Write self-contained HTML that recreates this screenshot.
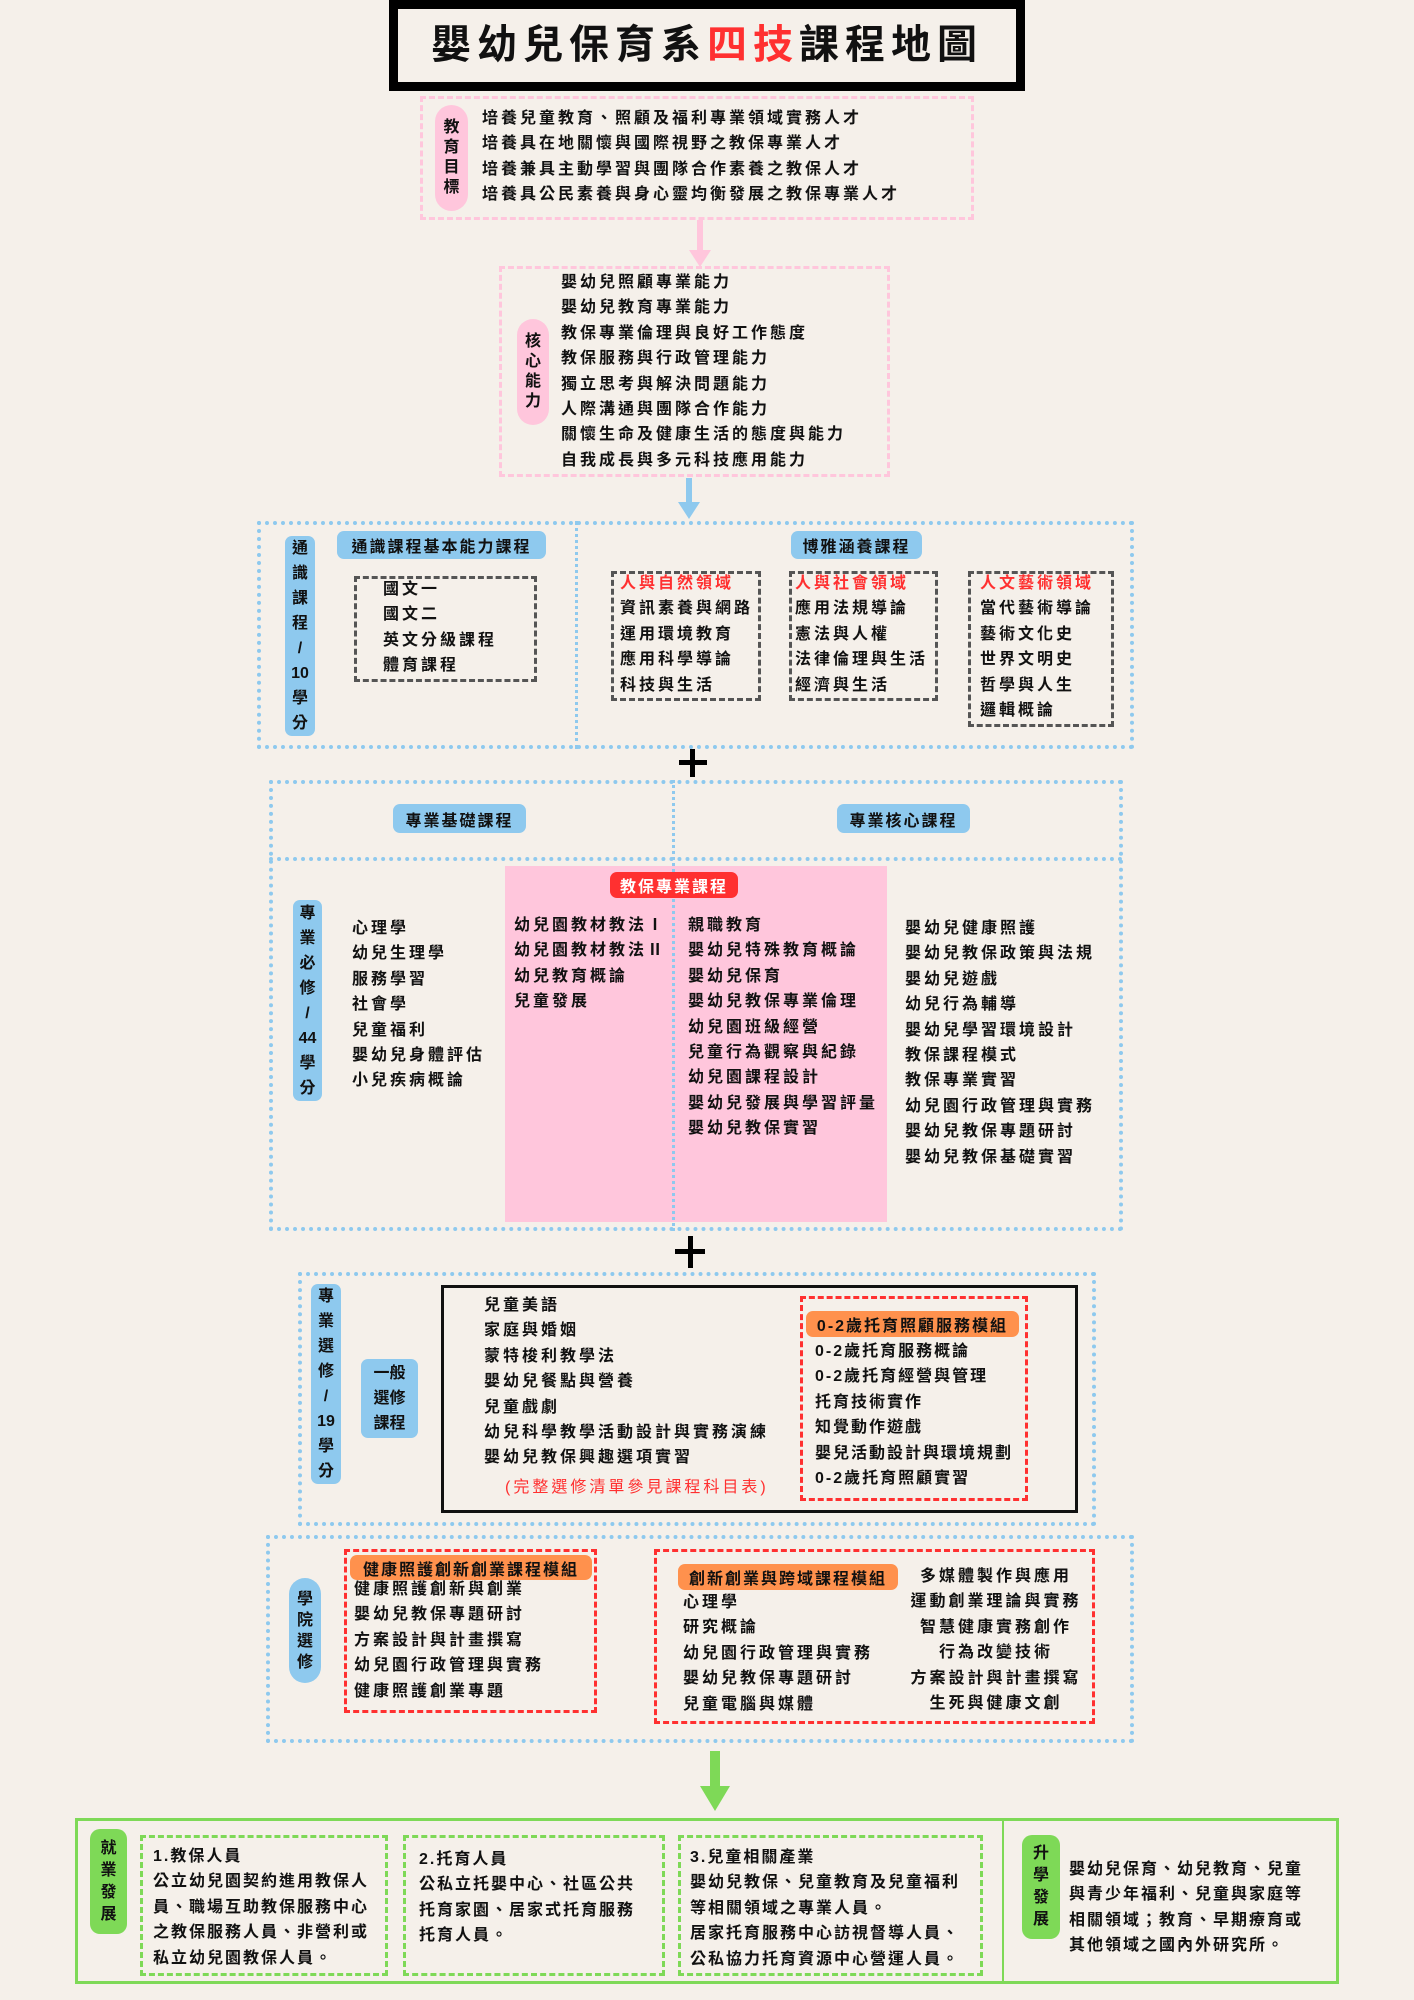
<!DOCTYPE html>
<html><head><meta charset="utf-8"><style>
*{margin:0;padding:0;box-sizing:border-box}
body{width:1414px;height:2000px;background:#f5f0ea;position:relative;overflow:hidden;font-family:"Liberation Sans","Noto Sans CJK TC",sans-serif;color:#111}
.a{position:absolute}
.t{position:absolute;font-size:16px;line-height:25.4px;letter-spacing:3px;white-space:nowrap;font-weight:700}
.pill{position:absolute;background:#8ec9ee;border-radius:7px;text-align:center;font-size:16px;font-weight:700;letter-spacing:2px;display:flex;align-items:center;justify-content:center;white-space:nowrap}
.vp{position:absolute;background:#8ec9ee;border-radius:7px;text-align:center;font-size:16px;font-weight:700;display:flex;flex-direction:column;align-items:center;justify-content:center;line-height:25px}
.pink{background:#ffc6dc;border-radius:18px}
.gr{background:#7ed957;border-radius:10px}
.bd{position:absolute;border:4px dotted #8ec9ee}
.dk{position:absolute;border:3px dashed #555}
.rd{position:absolute;border:3px dashed #ff3030}
.gd{position:absolute;border:3px dashed #7ed957}
.or{position:absolute;background:#ff914d;border-radius:7px;font-size:16px;font-weight:700;letter-spacing:2px;display:flex;align-items:center;justify-content:center;white-space:nowrap}
.r{color:#ff3030}
</style></head><body>

<!-- title -->
<div class="a" style="left:389px;top:0;width:636px;height:91px;background:#000"></div>
<div class="a" style="left:398px;top:9px;width:618px;height:73px;background:#f5f0ea;text-align:center;font-size:40px;line-height:73px;font-weight:700;letter-spacing:6px">嬰幼兒保育系<span class="r">四技</span>課程地圖</div>

<!-- goals -->
<div class="a" style="left:420px;top:96px;width:554px;height:124px;border:3px dashed #ffc6dc"></div>
<div class="vp pink" style="left:435px;top:105px;width:33px;height:106px;line-height:20px">教<br>育<br>目<br>標</div>
<div class="t" style="left:482px;top:106px">培養兒童教育、照顧及福利專業領域實務人才<br>培養具在地關懷與國際視野之教保專業人才<br>培養兼具主動學習與團隊合作素養之教保人才<br>培養具公民素養與身心靈均衡發展之教保專業人才</div>
<div class="a" style="left:697px;top:220px;width:6px;height:34px;background:#ffc6dc"></div>
<div class="a" style="left:689px;top:250px;width:0;height:0;border-left:11px solid transparent;border-right:11px solid transparent;border-top:17px solid #ffc6dc"></div>

<!-- core -->
<div class="a" style="left:499px;top:266px;width:391px;height:211px;border:3px dashed #ffc6dc"></div>
<div class="vp pink" style="left:517px;top:319px;width:32px;height:106px;line-height:20px">核<br>心<br>能<br>力</div>
<div class="t" style="left:561px;top:270px">嬰幼兒照顧專業能力<br>嬰幼兒教育專業能力<br>教保專業倫理與良好工作態度<br>教保服務與行政管理能力<br>獨立思考與解決問題能力<br>人際溝通與團隊合作能力<br>關懷生命及健康生活的態度與能力<br>自我成長與多元科技應用能力</div>
<div class="a" style="left:686px;top:478px;width:6px;height:28px;background:#8ec9ee"></div>
<div class="a" style="left:678px;top:502px;width:0;height:0;border-left:11px solid transparent;border-right:11px solid transparent;border-top:17px solid #8ec9ee"></div>

<!-- general -->
<div class="bd" style="left:257px;top:521px;width:877px;height:228px"></div>
<div class="a" style="left:575px;top:521px;border-left:3px dotted #8ec9ee;height:228px"></div>
<div class="vp" style="left:285px;top:536px;width:30px;height:200px">通<br>識<br>課<br>程<br>/<br>10<br>學<br>分</div>
<div class="pill" style="left:337px;top:531px;width:209px;height:28px">通識課程基本能力課程</div>
<div class="dk" style="left:354px;top:576px;width:183px;height:106px"></div>
<div class="t" style="left:383px;top:577px">國文一<br>國文二<br>英文分級課程<br>體育課程</div>
<div class="pill" style="left:791px;top:531px;width:131px;height:28px">博雅涵養課程</div>
<div class="dk" style="left:611px;top:571px;width:150px;height:130px"></div>
<div class="dk" style="left:789px;top:571px;width:149px;height:130px"></div>
<div class="dk" style="left:968px;top:571px;width:146px;height:156px"></div>
<div class="t" style="left:620px;top:571px"><span class="r">人與自然領域</span><br>資訊素養與網路<br>運用環境教育<br>應用科學導論<br>科技與生活</div>
<div class="t" style="left:795px;top:571px"><span class="r">人與社會領域</span><br>應用法規導論<br>憲法與人權<br>法律倫理與生活<br>經濟與生活</div>
<div class="t" style="left:980px;top:571px"><span class="r">人文藝術領域</span><br>當代藝術導論<br>藝術文化史<br>世界文明史<br>哲學與人生<br>邏輯概論</div>

<div class="a" style="left:679px;top:760px;width:28px;height:5px;background:#000"></div>
<div class="a" style="left:690px;top:749px;width:5px;height:28px;background:#000"></div>

<!-- professional required -->
<div class="a" style="left:505px;top:866px;width:382px;height:356px;background:#ffc6dc"></div>
<div class="bd" style="left:269px;top:780px;width:854px;height:451px"></div>
<div class="a" style="left:269px;top:857px;width:854px;border-top:4px dotted #8ec9ee"></div>
<div class="a" style="left:672px;top:780px;border-left:3px dotted #8ec9ee;height:451px"></div>
<div class="pill" style="left:393px;top:804px;width:133px;height:29px">專業基礎課程</div>
<div class="pill" style="left:837px;top:804px;width:133px;height:29px">專業核心課程</div>
<div class="pill" style="left:610px;top:872px;width:128px;height:26px;background:#ff3030;color:#fff">教保專業課程</div>
<div class="vp" style="left:293px;top:900px;width:29px;height:201px">專<br>業<br>必<br>修<br>/<br>44<br>學<br>分</div>
<div class="t" style="left:352px;top:916px">心理學<br>幼兒生理學<br>服務學習<br>社會學<br>兒童福利<br>嬰幼兒身體評估<br>小兒疾病概論</div>
<div class="t" style="left:514px;top:913px">幼兒園教材教法Ⅰ<br>幼兒園教材教法Ⅱ<br>幼兒教育概論<br>兒童發展</div>
<div class="t" style="left:688px;top:913px">親職教育<br>嬰幼兒特殊教育概論<br>嬰幼兒保育<br>嬰幼兒教保專業倫理<br>幼兒園班級經營<br>兒童行為觀察與紀錄<br>幼兒園課程設計<br>嬰幼兒發展與學習評量<br>嬰幼兒教保實習</div>
<div class="t" style="left:905px;top:916px">嬰幼兒健康照護<br>嬰幼兒教保政策與法規<br>嬰幼兒遊戲<br>幼兒行為輔導<br>嬰幼兒學習環境設計<br>教保課程模式<br>教保專業實習<br>幼兒園行政管理與實務<br>嬰幼兒教保專題研討<br>嬰幼兒教保基礎實習</div>

<div class="a" style="left:675px;top:1249px;width:30px;height:5px;background:#000"></div>
<div class="a" style="left:688px;top:1236px;width:5px;height:32px;background:#000"></div>

<!-- professional elective -->
<div class="bd" style="left:298px;top:1272px;width:798px;height:254px"></div>
<div class="vp" style="left:311px;top:1284px;width:30px;height:200px">專<br>業<br>選<br>修<br>/<br>19<br>學<br>分</div>
<div class="vp" style="left:361px;top:1359px;width:57px;height:79px">一般<br>選修<br>課程</div>
<div class="a" style="left:441px;top:1285px;width:637px;height:228px;border:3px solid #111"></div>
<div class="t" style="left:484px;top:1293px">兒童美語<br>家庭與婚姻<br>蒙特梭利教學法<br>嬰幼兒餐點與營養<br>兒童戲劇<br>幼兒科學教學活動設計與實務演練<br>嬰幼兒教保興趣選項實習</div>
<div class="t r" style="left:505px;top:1475px;font-weight:400">(完整選修清單參見課程科目表)</div>
<div class="rd" style="left:800px;top:1296px;width:228px;height:205px"></div>
<div class="or" style="left:806px;top:1311px;width:213px;height:26px">0-2歲托育照顧服務模組</div>
<div class="t" style="left:815px;top:1339px;letter-spacing:2px">0-2歲托育服務概論<br>0-2歲托育經營與管理<br>托育技術實作<br>知覺動作遊戲<br>嬰兒活動設計與環境規劃<br>0-2歲托育照顧實習</div>

<!-- college elective -->
<div class="bd" style="left:266px;top:1535px;width:868px;height:208px"></div>
<div class="vp" style="left:289px;top:1578px;width:32px;height:105px;border-radius:16px;line-height:21px">學<br>院<br>選<br>修</div>
<div class="rd" style="left:344px;top:1549px;width:253px;height:164px"></div>
<div class="or" style="left:350px;top:1555px;width:242px;height:25px">健康照護創新創業課程模組</div>
<div class="t" style="left:354px;top:1577px">健康照護創新與創業<br>嬰幼兒教保專題研討<br>方案設計與計畫撰寫<br>幼兒園行政管理與實務<br>健康照護創業專題</div>
<div class="rd" style="left:654px;top:1549px;width:441px;height:175px"></div>
<div class="or" style="left:678px;top:1564px;width:220px;height:26px">創新創業與跨域課程模組</div>
<div class="t" style="left:683px;top:1590px">心理學<br>研究概論<br>幼兒園行政管理與實務<br>嬰幼兒教保專題研討<br>兒童電腦與媒體</div>
<div class="t" style="left:896px;top:1564px;width:200px;text-align:center">多媒體製作與應用<br>運動創業理論與實務<br>智慧健康實務創作<br>行為改變技術<br>方案設計與計畫撰寫<br>生死與健康文創</div>

<div class="a" style="left:710px;top:1751px;width:10px;height:40px;background:#7ed957"></div>
<div class="a" style="left:700px;top:1786px;width:0;height:0;border-left:15px solid transparent;border-right:15px solid transparent;border-top:25px solid #7ed957"></div>

<!-- bottom -->
<div class="a" style="left:75px;top:1818px;width:1264px;height:166px;border:3px solid #7ed957"></div>
<div class="a" style="left:1002px;top:1818px;width:2px;height:166px;background:#7ed957"></div>
<div class="vp gr" style="left:90px;top:1829px;width:37px;height:105px;line-height:22px">就<br>業<br>發<br>展</div>
<div class="gd" style="left:140px;top:1835px;width:248px;height:141px"></div>
<div class="gd" style="left:403px;top:1835px;width:262px;height:141px"></div>
<div class="gd" style="left:678px;top:1835px;width:305px;height:141px"></div>
<div class="t" style="left:153px;top:1844px;letter-spacing:2px">1.教保人員<br>公立幼兒園契約進用教保人<br>員、職場互助教保服務中心<br>之教保服務人員、非營利或<br>私立幼兒園教保人員。</div>
<div class="t" style="left:419px;top:1847px;letter-spacing:2px">2.托育人員<br>公私立托嬰中心、社區公共<br>托育家園、居家式托育服務<br>托育人員。</div>
<div class="t" style="left:690px;top:1845px;letter-spacing:2px">3.兒童相關產業<br>嬰幼兒教保、兒童教育及兒童福利<br>等相關領域之專業人員。<br>居家托育服務中心訪視督導人員、<br>公私協力托育資源中心營運人員。</div>
<div class="vp gr" style="left:1022px;top:1835px;width:38px;height:104px;line-height:22px">升<br>學<br>發<br>展</div>
<div class="t" style="left:1069px;top:1857px;letter-spacing:2px">嬰幼兒保育、幼兒教育、兒童<br>與青少年福利、兒童與家庭等<br>相關領域；教育、早期療育或<br>其他領域之國內外研究所。</div>
</body></html>
